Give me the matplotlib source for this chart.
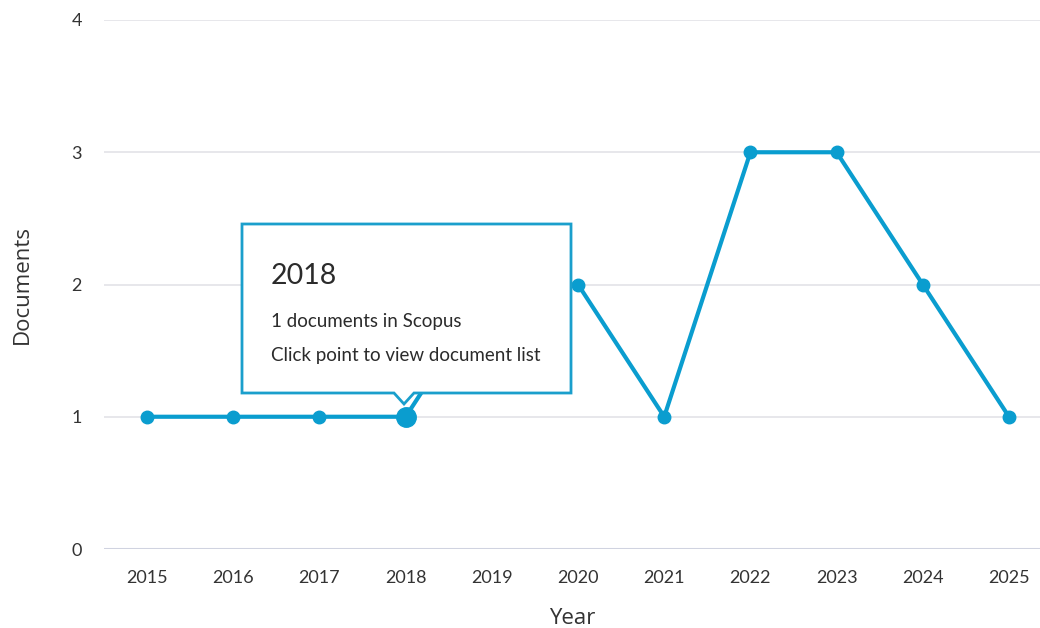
import matplotlib
matplotlib.use("Agg")
import matplotlib.pyplot as plt
from matplotlib.patches import Polygon

years = [2015, 2016, 2017, 2018, 2019, 2020, 2021, 2022, 2023, 2024, 2025]
documents = [1, 1, 1, 1, 2, 2, 1, 3, 3, 2, 1]
y_ticks = [0, 1, 2, 3, 4]
highlight_year = 2018
highlight_value = 1

line_color = "#0a9dcf"
W, H = 1040, 628
fig = plt.figure(figsize=(W / 100, H / 100), dpi=100)
ax = fig.add_axes([104 / W, 1 - 549 / H, (1040 - 104) / W, (549 - 20) / H])

ax.set_xlim(2014.5, 2025.36)
ax.set_ylim(0, 4)
ax.set_yticks(y_ticks)
ax.set_xticks(years)
for s in ax.spines.values():
    s.set_visible(False)
ax.grid(axis="y", color="#e3e3e8", linewidth=1.2)
ax.axhline(0, color="#d0d3e0", linewidth=2.2, zorder=1)
ax.set_axisbelow(True)
ax.tick_params(length=0, colors="#333333")
ax.tick_params(axis="x", pad=15)
ax.tick_params(axis="y", pad=16)
for lbl in ax.get_xticklabels() + ax.get_yticklabels():
    lbl.set_family(["Lato", "DejaVu Sans"])
    lbl.set_fontsize(13)

ax.plot(years, documents, color=line_color, linewidth=3, marker="o",
        markersize=9, zorder=3, clip_on=False)
ax.plot([highlight_year], [highlight_value], marker="o", markersize=14,
        color=line_color, zorder=4, clip_on=False)

ax.set_xlabel("Year", fontsize=16, color="#333333", labelpad=16,
              family=["Open Sans", "DejaVu Sans"])
ax.set_ylabel("Documents", fontsize=16, color="#333333", labelpad=28,
              family=["Open Sans", "DejaVu Sans"])

# Tooltip (in pixel coords of figure, y from top)
def P(x, y):
    return (x / W, 1 - y / H)

pts = [P(242, 224), P(571, 224), P(571, 393), P(414, 393), P(404, 404),
       P(394, 393), P(242, 393)]
tip = Polygon(pts, closed=True, transform=fig.transFigure, facecolor="white",
              edgecolor="#1a9fcc", linewidth=2, zorder=10)
fig.patches.append(tip)
fam = ["Lato", "DejaVu Sans"]
fig.text(*P(271, 276), "2018", fontsize=20.5, color="#2b2b2b", va="center",
         ha="left", family=fam, zorder=11)
fig.text(*P(271, 321), "1 documents in Scopus", fontsize=13.5, color="#2b2b2b",
         va="center", ha="left", family=fam, zorder=11)
fig.text(*P(271, 356), "Click point to view document list", fontsize=13.5,
         color="#2b2b2b", va="center", ha="left", family=fam, zorder=11)

fig.savefig("out.png", dpi=100)
